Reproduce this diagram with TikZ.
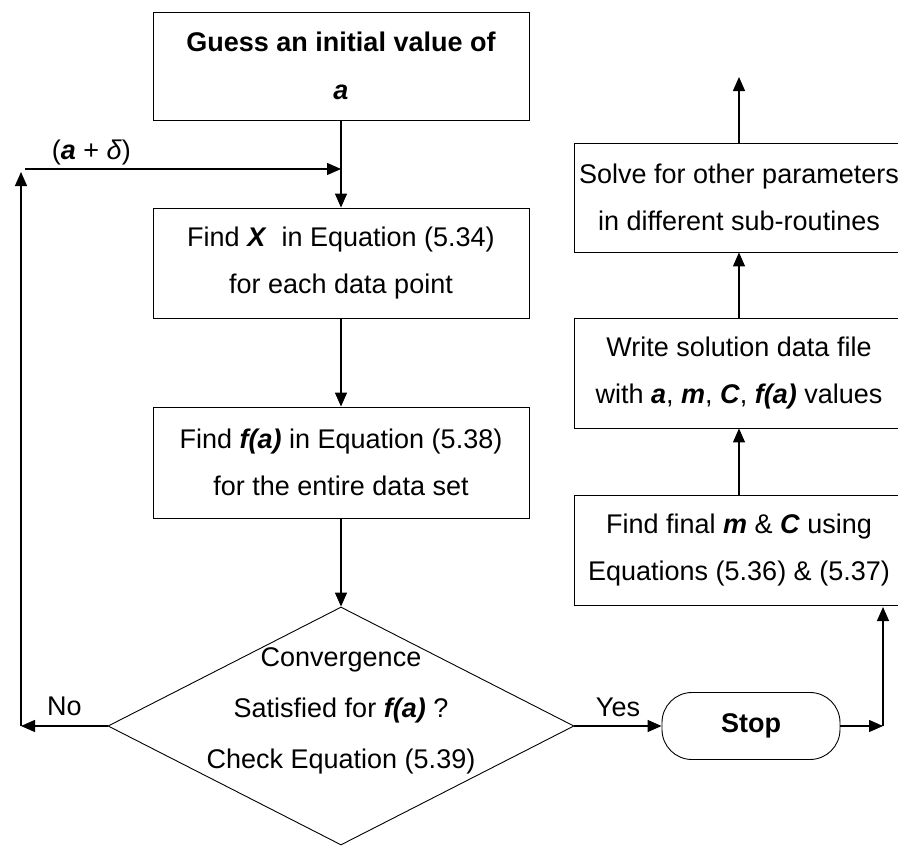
\documentclass[tikz,border=0pt]{standalone}
\usepackage{fontspec}
\setmainfont{Liberation Sans}
\usetikzlibrary{shapes.geometric,arrows.meta}

\begin{document}
\begin{tikzpicture}[
    x=1pt, y=-1pt,
    % Estilo das caixas de processo
    caixa/.style={draw, line width=0.9pt, inner sep=0pt, align=center,
        font=\fontsize{27}{47}\selectfont},
    caixaesq/.style={caixa, minimum width=376pt, minimum height=110pt},
    caixadir/.style={caixa, minimum width=330pt, minimum height=110pt},
    % Estilo das setas e dos rotulos
    seta/.style={-{Triangle[length=14pt, width=12pt]}, line width=1.3pt},
    rotulo/.style={font=\fontsize{27}{47}\selectfont}
]

    % ==========================================
    % 1. AREA DO DESENHO
    % ==========================================
    \useasboundingbox (0,0) rectangle (898,846);
    \clip (0,0) rectangle (898,846);

    % ==========================================
    % 2. COLUNA DA ESQUERDA (iteracao)
    % ==========================================
    \node[caixaesq, minimum height=108pt, font=\bfseries\fontsize{27}{48}\selectfont]
        (chute) at (341,66) {Guess an initial value of\\ \textit{a}};
    \node[caixaesq] (achax) at (341,263)
        {Find \textbf{\textit{X}}~ in Equation (5.34)\\ for each data point};
    \node[caixaesq, minimum height=111pt] (achaf) at (341,462.5)
        {Find \textbf{\textit{f(a)}} in Equation (5.38)\\ for the entire data set};

    % Losango de decisao (texto em separado)
    \node[draw, diamond, line width=0.9pt, inner sep=0pt,
        minimum width=466pt, minimum height=238pt] (conv) at (341,726) {};
    \node[rotulo, align=center, font=\fontsize{27}{51}\selectfont] (convtxt) at (341,711)
        {Convergence\\ Satisfied for \textbf{\textit{f(a)}} ?\\ Check Equation (5.39)};

    \node[draw, rounded corners=30pt, line width=0.9pt, minimum width=178pt,
        minimum height=67pt, font=\bfseries\fontsize{27}{47}\selectfont]
        (parar) at (751,726) {Stop};

    % ==========================================
    % 3. COLUNA DA DIREITA (saida)
    % ==========================================
    \node[caixadir] (final) at (739,550)
        {Find final \textbf{\textit{m}} \& \textbf{\textit{C}} using\\ Equations (5.36) \& (5.37)};
    \node[caixadir] (grava) at (739,373)
        {Write solution data file\\ with \textbf{\textit{a}}, \textbf{\textit{m}}, \textbf{\textit{C}}, \textbf{\textit{f(a)}} values};
    \node[caixadir, minimum height=109pt] (resolve) at (739,197.5)
        {Solve for other parameters\\ in different sub-routines};

    % Pontos livres das setas
    \coordinate (juncao) at (341,169);
    \coordinate (retorno) at (25,169);
    \coordinate (esq) at (21,726);
    \coordinate (esqtopo) at (21,172);
    \coordinate (dir) at (883,726);
    \coordinate (dirtopo) at (883,607);
    \coordinate (saida) at (739,77);

    % ==========================================
    % 4. SETAS
    % ==========================================
    \draw[seta] (chute) -- (achax);
    \draw[seta] (retorno) -- node[rotulo, above, pos=0.21] (delta)
        {(\textbf{\textit{a}} + \textit{δ})} (juncao);
    \draw[seta] (achax) -- (achaf);
    \draw[seta] (achaf) -- (conv);

    % Ramo "No": volta para cima
    \draw[seta] (conv.west) -- node[rotulo, above=6pt] (nao) {No} (esq);
    \draw[seta] (esq) -- (esqtopo);

    % Ramo "Yes": segue para a direita
    \draw[seta] (conv.east) -- node[rotulo, above=5pt] (sim) {Yes} (parar.west);
    \draw[seta] (parar.east) -- (dir);
    \draw[seta] (dir) -- (dirtopo);

    \draw[seta] (final) -- (grava);
    \draw[seta] (grava) -- (resolve);
    \draw[seta] (resolve) -- (saida);

\end{tikzpicture}
\end{document}
